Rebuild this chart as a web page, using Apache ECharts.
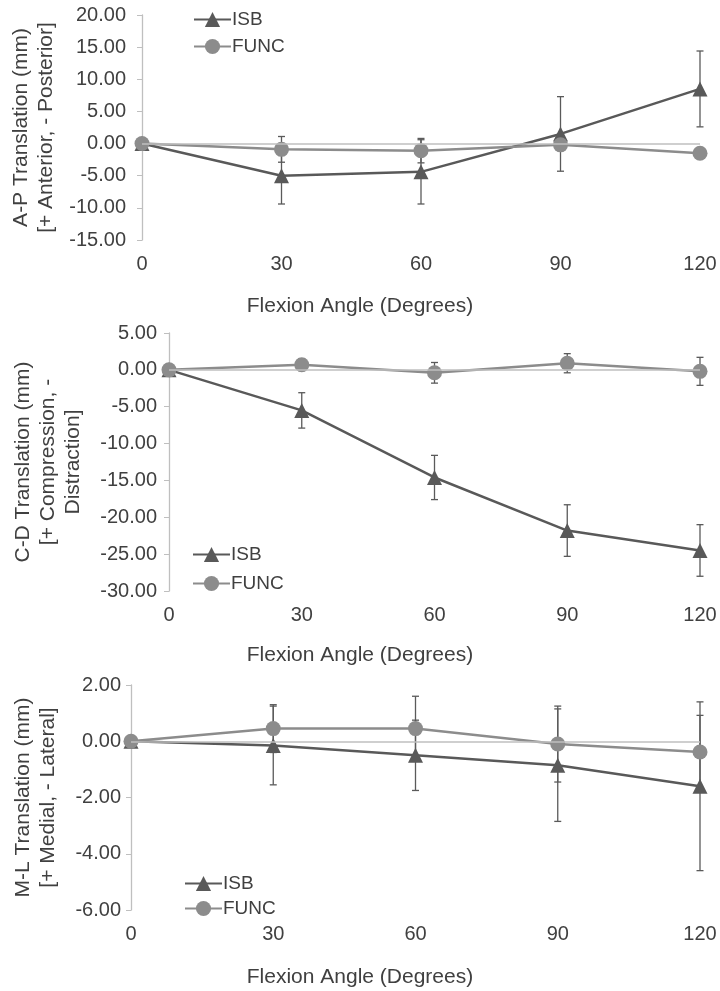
<!DOCTYPE html>
<html style="height: 100%;width:100%">
<head>
<meta charset="utf-8">
</head>
<body style="height: 100%; width:100%; margin:0">
<div id="chart-panel" style="height: 991px;width: 720px"></div>
<script type="text/javascript" src="https://cdn.jsdelivr.net/npm/echarts@6/dist/echarts.min.js"></script>
<script type="text/javascript">
// flexion angles (x)
var angles = [0, 30, 60, 90, 120];

// A-P translation
var apIsb = [0, -5.0, -4.4, 1.5, 8.5];
var apIsbErr = [0, 4.4, 5.0, 5.8, 5.9];
var apFunc = [0, -0.9, -1.1, -0.2, -1.5];
var apFuncErr = [0, 2.0, 1.9, 0.3, 0.3];

// C-D translation
var cdIsb = [0, -5.5, -14.6, -21.8, -24.5];
var cdIsbErr = [0, 2.4, 3.0, 3.5, 3.5];
var cdFunc = [0, 0.7, -0.4, 0.9, -0.2];
var cdFuncErr = [0, 0.8, 1.4, 1.3, 1.9];

// M-L translation
var mlIsb = [0, -0.15, -0.5, -0.85, -1.6];
var mlIsbErr = [0, 1.4, 1.25, 2.0, 3.0];
var mlFunc = [0, 0.45, 0.45, -0.1, -0.38];
var mlFuncErr = [0, 0.85, 1.15, 1.35, 1.3];

var dom = document.getElementById("chart-panel");
var myChart = echarts.init(dom);

var font = 'Liberation Sans, Arial, sans-serif';
var txtColor = '#404040';
var isbColor = '#595959';
var funcColor = '#8c8c8c';

function pts(vals) {
    var res = [];
    for (var i = 0; i < angles.length; i++) res.push([angles[i], vals[i]]);
    return res;
}
function errPts(vals, errs) {
    var res = [];
    for (var i = 0; i < angles.length; i++) res.push([angles[i], vals[i], errs[i]]);
    return res;
}

// vertical error bar with small caps
function errRender(params, api) {
    var x = api.value(0), y = api.value(1), e = api.value(2);
    if (!e) return null;
    var hi = api.coord([x, y + e]);
    var lo = api.coord([x, y - e]);
    var w = 3.5;
    var st = { stroke: '#5a5a5a', lineWidth: 1.3 };
    return {
        type: 'group',
        children: [
            { type: 'line', shape: { x1: hi[0], y1: hi[1], x2: lo[0], y2: lo[1] }, style: st },
            { type: 'line', shape: { x1: hi[0] - w, y1: hi[1], x2: hi[0] + w, y2: hi[1] }, style: st },
            { type: 'line', shape: { x1: lo[0] - w, y1: lo[1], x2: lo[0] + w, y2: lo[1] }, style: st }
        ]
    };
}

var panels = [
    { isb: apIsb, isbErr: apIsbErr, func: apFunc, funcErr: apFuncErr },
    { isb: cdIsb, isbErr: cdIsbErr, func: cdFunc, funcErr: cdFuncErr },
    { isb: mlIsb, isbErr: mlIsbErr, func: mlFunc, funcErr: mlFuncErr }
];

var grids = [
    { left: 142, right: 20, top: 15, height: 225 },
    { left: 169, right: 20, top: 333, height: 258 },
    { left: 131, right: 20, top: 685, height: 225 }
];

var yNames = [
    'A-P Translation (mm)\n[+ Anterior, - Posterior]',
    'C-D Translation (mm)\n[+ Compression, -\nDistraction]',
    'M-L Translation (mm)\n[+ Medial, - Lateral]'
];
var yMin = [-15, -30, -6];
var yMax = [20, 5, 2];
var yStep = [5, 5, 2];
var yGap = [77, 83, 70];
var yMargin = [16, 12, 10];

var xAxes = [], yAxes = [], series = [];
for (var p = 0; p < 3; p++) {
    xAxes.push({
        gridIndex: p,
        type: 'value',
        min: 0, max: 120, interval: 30,
        axisLine: { show: false },
        axisTick: { show: false },
        splitLine: { show: false },
        axisLabel: { color: txtColor, fontSize: 20, fontFamily: font, margin: 14 }
    });
    yAxes.push({
        gridIndex: p,
        type: 'value',
        min: yMin[p], max: yMax[p], interval: yStep[p],
        name: yNames[p],
        nameLocation: 'middle',
        nameRotate: 90,
        nameGap: yGap[p],
        nameTextStyle: { color: txtColor, fontSize: 21, fontFamily: font, lineHeight: 25 },
        axisLine: { show: true, lineStyle: { color: '#bfbfbf', width: 1.3 } },
        axisTick: { show: true, length: 5, lineStyle: { color: '#bfbfbf' } },
        splitLine: { show: false },
        axisLabel: {
            color: txtColor, fontSize: 20, fontFamily: font, margin: yMargin[p],
            formatter: function (v) { return v.toFixed(2); }
        }
    });
    var d = panels[p];
    series.push({
        name: 'ISB err', type: 'custom', xAxisIndex: p, yAxisIndex: p,
        renderItem: errRender, data: errPts(d.isb, d.isbErr), z: 1,
        markLine: {
            silent: true, symbol: 'none', label: { show: false },
            lineStyle: { color: '#bfbfbf', width: 1.5, type: 'solid' },
            data: [{ yAxis: 0 }]
        }
    });
    series.push({
        name: 'FUNC err', type: 'custom', xAxisIndex: p, yAxisIndex: p,
        renderItem: errRender, data: errPts(d.func, d.funcErr), z: 1
    });
    series.push({
        name: 'ISB', type: 'line', xAxisIndex: p, yAxisIndex: p,
        data: pts(d.isb), symbol: 'triangle', symbolSize: 15,
        lineStyle: { color: isbColor, width: 2.5 },
        itemStyle: { color: isbColor },
        z: 3
    });
    series.push({
        name: 'FUNC', type: 'line', xAxisIndex: p, yAxisIndex: p,
        data: pts(d.func), symbol: 'circle', symbolSize: 15,
        lineStyle: { color: funcColor, width: 2.5 },
        itemStyle: { color: funcColor },
        z: 4
    });
}

var legendPos = [
    { left: 193, top: 10, itemGap: 8 },
    { left: 192, top: 545, itemGap: 10 },
    { left: 184, top: 874, itemGap: 6 }
];
var legends = [];
for (var k = 0; k < 3; k++) {
    legends.push({
        data: ['ISB', 'FUNC'],
        orient: 'vertical',
        left: legendPos[k].left,
        top: legendPos[k].top,
        itemGap: legendPos[k].itemGap,
        itemWidth: 37,
        itemHeight: 19,
        padding: 0,
        selectedMode: false,
        textStyle: { color: txtColor, fontSize: 19, fontFamily: font, padding: [0, 0, 0, -4] }
    });
}

var titleTops = [296, 645, 967];
var titles = [];
for (var t = 0; t < 3; t++) {
    titles.push({
        text: 'Flexion Angle (Degrees)',
        left: 'center',
        top: titleTops[t],
        padding: 0,
        textStyle: { color: txtColor, fontSize: 21, fontWeight: 'normal', fontFamily: font }
    });
}

var option = {
    backgroundColor: '#ffffff',
    animation: false,
    title: titles,
    legend: legends,
    grid: grids,
    xAxis: xAxes,
    yAxis: yAxes,
    series: series
};

myChart.setOption(option);
</script>
</body>
</html>
